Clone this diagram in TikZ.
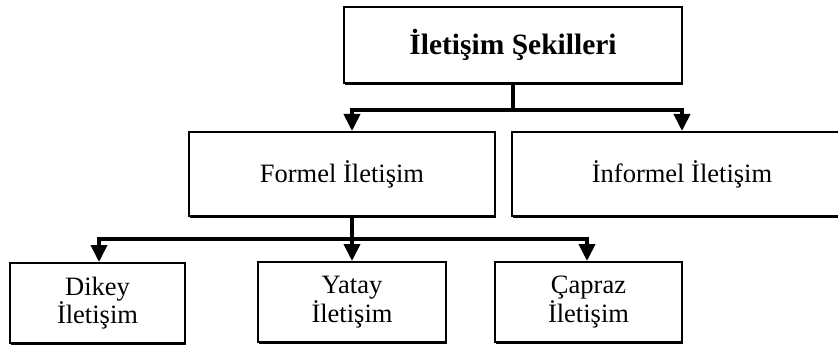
\documentclass[tikz,border=0pt]{standalone}
\usepackage{fontspec}
\setmainfont{Liberation Serif}
\usetikzlibrary{arrows.meta,shadows,calc}

\tikzset{
  box/.style={draw=black, fill=white, line width=2pt, rectangle, align=center,
    inner sep=0pt, font=\fontsize{26.5}{27}\selectfont,
    drop shadow={shadow xshift=1.2pt, shadow yshift=-2pt, fill=black, opacity=1}},
  conn/.style={line width=3.8pt, line join=miter, line cap=rect},
  arr/.style={conn, -{Triangle[width=16pt,length=17pt]}},
}

\begin{document}
\begin{tikzpicture}[x=1pt,y=-1pt]
  \useasboundingbox (0,0) rectangle (838,350);

  % top level
  \node[box, minimum width=338pt, minimum height=76pt, font=\fontsize{29.5}{31}\selectfont\bfseries]
    (top) at (513,45) {İletişim Şekilleri};

  % second level
  \node[box, minimum width=306pt, minimum height=84pt] (formel) at (342,174) {Formel İletişim};
  \node[box, minimum width=340pt, minimum height=84pt] (informel) at (682,174) {İnformel İletişim};

  % third level
  \node[box, minimum width=175pt, minimum height=80pt] (dikey) at (97.5,303) {Dikey\\İletişim};
  \node[box, minimum width=188pt, minimum height=80pt] (yatay) at (352,302) {Yatay\\İletişim};
  \node[box, minimum width=187pt, minimum height=80pt] (capraz) at (588.5,302) {Çapraz\\İletişim};

  % junction points of the branch bars
  \coordinate (bar1) at (513,110);
  \coordinate (bar2) at (352,239);

  % top -> second level
  \draw[conn] (top.south) -- (bar1);
  \draw[arr] (bar1) -| ([xshift=10pt]formel.north);
  \draw[arr] (bar1) -| (informel.north);

  % formel -> third level
  \draw[conn] ([xshift=10pt]formel.south) -- (bar2);
  \draw[arr] (bar2) -| ([xshift=1.5pt]dikey.north);
  \draw[arr] (bar2) -- (yatay.north);
  \draw[arr] (bar2) -| ([xshift=-1.5pt]capraz.north);
\end{tikzpicture}
\end{document}
